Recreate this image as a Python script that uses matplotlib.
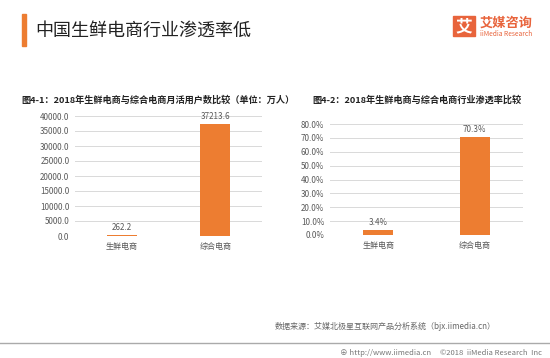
import matplotlib
matplotlib.use("Agg")

import matplotlib.pyplot as plt
from matplotlib.patches import Rectangle

plt.rcParams["font.family"] = ["Noto Sans CJK SC", "DejaVu Sans"]

# ------------------ DATA ------------------

categories = ["生鲜电商", "综合电商"]
users = [262.2, 37213.6]          # 月活用户数（万人）
penetration = [3.4, 70.3]         # 行业渗透率（%）

users_ticks = [0, 5000, 10000, 15000, 20000, 25000, 30000, 35000, 40000]
pct_ticks = [0, 10, 20, 30, 40, 50, 60, 70, 80]

title = "中国生鲜电商行业渗透率低"
sub1 = "图4-1：2018年生鲜电商与综合电商月活用户数比较（单位：万人）"
sub2 = "图4-2：2018年生鲜电商与综合电商行业渗透率比较"
source = "数据来源：艾媒北极星互联网产品分析系统（bjx.iimedia.cn）"

ORANGE = "#ED7D31"
GRID = "#D9D9D9"
TICK = "#595959"

W, H = 550, 358


def px_axes(fig, x0, y_top, x1, y_bottom):
    return fig.add_axes([x0 / W, 1 - y_bottom / H, (x1 - x0) / W, (y_bottom - y_top) / H])


def style_axes(ax, ticks, fmt):
    ax.set_ylim(ticks[0], ticks[-1])
    ax.set_yticks(ticks)
    ax.set_yticklabels([fmt(t) for t in ticks], fontsize=5.8, color=TICK)
    ax.set_xlim(-0.5, 1.5)
    ax.set_xticks(range(len(categories)))
    ax.set_xticklabels(categories, fontsize=5.8, color=TICK)
    ax.tick_params(length=0, pad=4)
    ax.grid(axis="y", color=GRID, linewidth=0.7)
    ax.set_axisbelow(True)
    for s in ax.spines.values():
        s.set_visible(False)


fig = plt.figure(figsize=(W / 100, H / 100), dpi=100)

# ------------------ HEADER ------------------
fig.patches.append(Rectangle((22 / W, 1 - 46 / H), 4 / W, 32 / H,
                             transform=fig.transFigure, color=ORANGE))
fig.text(35 / W, 1 - 31 / H, title, fontsize=13, color="#222222", va="center")

fig.patches.append(Rectangle((453 / W, 1 - 36 / H), 22 / W, 20 / H,
                             transform=fig.transFigure, color="#E8643C"))
fig.text(464 / W, 1 - 26 / H, "艾", fontsize=12, color="white", fontweight="bold",
         ha="center", va="center")
fig.text(480 / W, 1 - 23 / H, "艾媒咨询", fontsize=9.5, color="#E8643C",
         fontweight="bold", va="center")
fig.text(480 / W, 1 - 34 / H, "iiMedia Research", fontsize=4.8, color="#E8643C",
         va="center")

# ------------------ CHART 1 ------------------
fig.text(21 / W, 1 - 100 / H, sub1, fontsize=6.6, fontweight="bold",
         color="#222222", va="center")
ax1 = px_axes(fig, 75, 116, 262, 236)
style_axes(ax1, users_ticks, lambda t: f"{t:.1f}")
bars = ax1.bar(range(len(categories)), users, width=0.32, color=ORANGE)
for b, v in zip(bars, users):
    ax1.text(b.get_x() + b.get_width() / 2, v + 1200, f"{v:.1f}",
             ha="center", va="bottom", fontsize=5.8, color=TICK, clip_on=False)

# ------------------ CHART 2 ------------------
fig.text(312 / W, 1 - 100 / H, sub2, fontsize=6.6, fontweight="bold",
         color="#222222", va="center")
ax2 = px_axes(fig, 330, 124, 523, 235)
style_axes(ax2, pct_ticks, lambda t: f"{t:.1f}%")
bars = ax2.bar(range(len(categories)), penetration, width=0.31, color=ORANGE)
for b, v in zip(bars, penetration):
    ax2.text(b.get_x() + b.get_width() / 2, v + 2.5, f"{v:.1f}%",
             ha="center", va="bottom", fontsize=5.8, color=TICK, clip_on=False)

# ------------------ FOOTER ------------------
fig.text(275 / W, 1 - 326 / H, source, fontsize=5.8, color="#666666", va="center")
fig.add_artist(plt.Line2D([0, 1], [1 - 343 / H, 1 - 343 / H],
                          transform=fig.transFigure, color="#AAAAAA", linewidth=1))
fig.text(340 / W, 1 - 353 / H, "⊕ http://www.iimedia.cn", fontsize=5.5,
         color="#777777", va="center")
fig.text(542 / W, 1 - 353 / H, "©2018  iiMedia Research  Inc", fontsize=5.5,
         color="#777777", va="center", ha="right")

fig.savefig("out.png", dpi=100, facecolor="white")
